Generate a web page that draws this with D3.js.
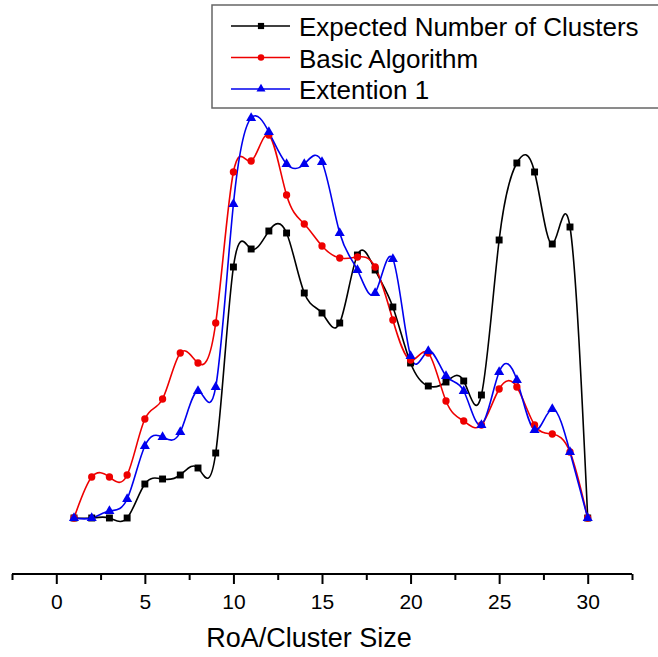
<!DOCTYPE html>
<html lang="en">
<head>
    <meta charset="UTF-8">
    <title>Cluster Size Chart</title>
    <script src="https://cdn.jsdelivr.net/npm/d3@7"></script>
    <style>
        body { margin: 0; background: #fff; }
        .axis path, .axis line { fill: none; stroke: #000; stroke-width: 2; }
        .axis text { font-family: Arial, 'Liberation Sans', sans-serif; font-size: 21px; }
        .legend text { font-family: Arial, 'Liberation Sans', sans-serif; font-size: 26px; }
    </style>
</head>
<body>
<svg id="img" width="658" height="657"></svg>
<script>
    var roa = d3.range(1, 31);
    var expected = [0, 0, 0, 0, 8.5, 9.75, 10.75, 12.5, 16.25, 62.75, 67.25, 71.75, 71.25, 56.25, 51.25,
        48.75, 65.75, 62, 52.75, 38.75, 33, 34, 34.25, 30.75, 69.5, 88.75, 86.5, 68.5, 72.75, 0];
    var basic = [0, 10.25, 10.25, 10.75, 24.75, 29.75, 41.25, 38.75, 48.75, 86.5, 89.25, 95.75, 80.75, 73.5, 68,
        65, 65.25, 62.75, 49.5, 39.5, 41.25, 29.25, 24.25, 23.25, 32.25, 32.75, 23.25, 21, 16.5, 0];
    var ext1 = [0, 0, 1.75, 4.75, 18, 20.25, 21.5, 31.75, 32.75, 78.5, 100, 96.5, 88.5, 88.5, 89,
        71.25, 62, 56.25, 64.75, 40.5, 41.75, 35.5, 31.75, 23.25, 36.5, 34.5, 22, 27.25, 16.5, 0];
    var xTicks = [0, 5, 10, 15, 20, 25, 30];
    var seriesNames = ["Expected Number of Clusters", "Basic Algorithm", "Extention 1"];

    var series = [
        {name: seriesNames[0], values: expected, color: "#000000", symbol: d3.symbolSquare, size: 48},
        {name: seriesNames[1], values: basic, color: "#ee0000", symbol: d3.symbolCircle, size: 42},
        {name: seriesNames[2], values: ext1, color: "#0000ee", symbol: d3.symbolTriangle, size: 44}
    ];

    var vis = d3.select("#img"),
        axisY = 574;

    var xRange = d3.scaleLinear().domain([-2.5, 32.5]).range([12, 632]);
    var yRange = d3.scaleLinear().domain([0, 100]).range([518, 118]);

    var xAxis = d3.axisBottom(xRange).tickValues(xTicks).tickSize(10).tickPadding(10);
    var xMinor = d3.axisBottom(xRange).tickValues(d3.range(-2.5, 33, 5)).tickSize(6).tickFormat("");

    vis.append("g").attr("class", "x axis")
        .attr("transform", "translate(0," + axisY + ")")
        .call(xAxis)
        .call(function (g) { g.select(".domain").attr("d", "M" + xRange(-2.5) + ",0H" + xRange(32.5)); });
    vis.append("g").attr("class", "x axis minor")
        .attr("transform", "translate(0," + axisY + ")")
        .call(xMinor)
        .call(function (g) { g.select(".domain").remove(); });

    vis.append("text")
        .attr("x", xRange(15) - 13).attr("y", 647)
        .attr("text-anchor", "middle")
        .style("font-family", "Arial, 'Liberation Sans', sans-serif")
        .style("font-size", "27px")
        .text("RoA/Cluster Size");

    var lineFunc = d3.line()
        .x(function (d, i) { return xRange(roa[i]); })
        .y(function (d) { return yRange(d); })
        .curve(d3.curveNatural);

    series.forEach(function (s) {
        vis.append("path")
            .attr("d", lineFunc(s.values))
            .attr("stroke", s.color)
            .attr("stroke-width", 1.6)
            .attr("fill", "none");
    });
    series.forEach(function (s) {
        vis.append("g").selectAll("path")
            .data(s.values)
            .enter().append("path")
            .attr("transform", function (d, i) { return "translate(" + xRange(roa[i]) + "," + yRange(d) + ")"; })
            .attr("d", d3.symbol().type(s.symbol).size(s.size))
            .attr("fill", s.color);
    });

    // legend
    var legend = vis.append("g").attr("class", "legend");
    legend.append("rect")
        .attr("x", 212).attr("y", 5).attr("width", 460).attr("height", 103)
        .attr("fill", "#fff").attr("stroke", "#666").attr("stroke-width", 1.5);
    series.forEach(function (s, i) {
        var base = 36 + i * 31.5;
        legend.append("line")
            .attr("x1", 231).attr("x2", 290).attr("y1", base - 10).attr("y2", base - 10)
            .attr("stroke", s.color).attr("stroke-width", 1.6);
        legend.append("path")
            .attr("transform", "translate(261," + (base - 10) + ")")
            .attr("d", d3.symbol().type(s.symbol).size(s.size * 0.8))
            .attr("fill", s.color);
        legend.append("text")
            .attr("x", 299).attr("y", base)
            .text(s.name);
    });
</script>
</body>
</html>
